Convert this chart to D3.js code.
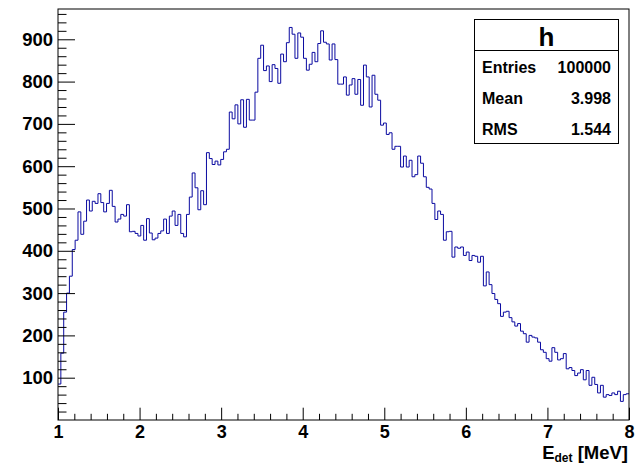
<!DOCTYPE html>
<html>
<head>
<meta charset="utf-8">
<script src="https://cdn.jsdelivr.net/npm/d3@7/dist/d3.min.js"></script>
<style>
  html, body { margin: 0; padding: 0; background: #fff; }
  svg { display: block; }
  text { font-family: "Liberation Sans", Arial, Helvetica, sans-serif; font-weight: bold; }
</style>
</head>
<body>
<svg id="chart" width="639" height="464"></svg>
<script>
// Histogram "h": detected energy, 200 equal bins between 1 and 8 MeV
const xRange = [1, 8];
const counts = [
   85, 158, 255, 300, 340, 403, 425, 492, 439, 470,
  520, 494, 517, 512, 535, 514, 492, 512, 543, 505,
  468, 475, 486, 482, 509, 445, 446, 441, 435, 460,
  425, 476, 442, 426, 430, 441, 447, 475, 441, 482,
  494, 460, 486, 441, 433, 486, 527, 584, 549, 497,
  542, 509, 632, 618, 604, 612, 603, 616, 634, 640,
  728, 712, 745, 700, 757, 692, 758, 709, 709, 775,
  855, 886, 826, 837, 800, 840, 831, 796, 865, 847,
  892, 928, 912, 855, 915, 905, 855, 827, 841, 869,
  847, 890, 920, 893, 889, 851, 889, 852, 794, 794,
  811, 768, 792, 807, 770, 805, 744, 839, 811, 740,
  815, 770, 756, 697, 702, 675, 679, 640, 647, 647,
  598, 624, 598, 614, 575, 580, 624, 607, 575, 550,
  546, 512, 474, 494, 486, 425, 445, 446, 385, 409,
  406, 409, 389, 397, 377, 389, 387, 373, 387, 317,
  350, 320, 299, 285, 275, 245, 255, 257, 242, 232,
  222, 228, 210, 204, 184, 200, 196, 194, 184, 166,
  160, 145, 139, 171, 160, 142, 145, 157, 121, 124,
  117, 105, 111, 119,  95, 117,  82, 101,  84,  64,
   82,  54,  60,  58,  64,  60,  68,  44,  60,  62
];
const yMax = 971.6;

// Axis tick labels
const xTickLabels = [1, 2, 3, 4, 5, 6, 7, 8];
const yTickLabels = [100, 200, 300, 400, 500, 600, 700, 800, 900];

// Statistics box
const statsTitle = "h";
const statsNames = ["Entries", "Mean", "RMS"];
const statsValues = ["100000", "3.998", "1.544"];

const W = 639, H = 464;
const frame = { left: 58, right: 629, top: 9, bottom: 420 };

const svg = d3.select("#chart");
svg.append("rect").attr("width", W).attr("height", H).attr("fill", "#fff");

const x = d3.scaleLinear().domain(xRange).range([frame.left, frame.right]);
const y = d3.scaleLinear().domain([0, yMax]).range([frame.bottom, frame.top]);

// Histogram outline as a step line through bin edges
const nBins = counts.length;
const binW = (xRange[1] - xRange[0]) / nBins;
const pts = counts.map((c, i) => [xRange[0] + i * binW, c]);
pts.push([xRange[1], counts[nBins - 1]]);

svg.append("clipPath").attr("id", "frameClip")
  .append("rect")
  .attr("x", frame.left).attr("y", frame.top)
  .attr("width", frame.right - frame.left).attr("height", frame.bottom - frame.top);

svg.append("path")
  .datum(pts)
  .attr("clip-path", "url(#frameClip)")
  .attr("fill", "none")
  .attr("stroke", "#0a0aa0")
  .attr("stroke-width", 1)
  .attr("d", d3.line().x(d => x(d[0])).y(d => y(d[1])).curve(d3.curveStepAfter));

// Minor ticks
const xMinor = d3.range(1, 8.0001, 0.2).filter(v => Math.abs(v - Math.round(v)) > 1e-6);
const yMinor = d3.range(20, yMax, 20).filter(v => v % 100 !== 0);

svg.append("g")
  .attr("transform", `translate(0,${frame.bottom})`)
  .call(d3.axisBottom(x).tickValues(xMinor).tickSize(-6.2).tickFormat(""))
  .call(g => g.select(".domain").remove());

svg.append("g")
  .attr("transform", `translate(${frame.left},0)`)
  .call(d3.axisLeft(y).tickValues(yMinor).tickSize(-8.5).tickFormat(""))
  .call(g => g.select(".domain").remove());

// Major ticks with labels
svg.append("g")
  .attr("transform", `translate(0,${frame.bottom})`)
  .call(d3.axisBottom(x).tickValues(xTickLabels).tickSize(-12.3).tickPadding(5.5).tickFormat(d3.format("d")))
  .call(g => g.select(".domain").remove())
  .call(g => g.selectAll("text").attr("font-size", 18).attr("fill", "#000"));

svg.append("g")
  .attr("transform", `translate(${frame.left},0)`)
  .call(d3.axisLeft(y).tickValues(yTickLabels).tickSize(-17).tickPadding(5).tickFormat(d3.format("d")))
  .call(g => g.select(".domain").remove())
  .call(g => g.selectAll("text").attr("font-size", 18.5).attr("fill", "#000"));

svg.selectAll(".tick line").attr("stroke", "#000").attr("stroke-width", 1);

// Frame
svg.append("rect")
  .attr("x", frame.left).attr("y", frame.top)
  .attr("width", frame.right - frame.left).attr("height", frame.bottom - frame.top)
  .attr("fill", "none").attr("stroke", "#000").attr("stroke-width", 1);

// X axis title with subscript
const xt = svg.append("text")
  .attr("x", frame.right - 1).attr("y", 459)
  .attr("text-anchor", "end")
  .attr("font-size", 18.5)
  .attr("fill", "#000");
xt.append("tspan").text("E");
xt.append("tspan").attr("font-size", 12).attr("dy", 3).text("det");
xt.append("tspan").attr("dy", -3).text(" [MeV]");

// Statistics box
const box = { x: 474, y: 19, w: 144, h: 124, split: 50 };
const sg = svg.append("g");
sg.append("rect")
  .attr("x", box.x + 0.5).attr("y", box.y + 0.5)
  .attr("width", box.w).attr("height", box.h)
  .attr("fill", "#fff").attr("stroke", "#000").attr("stroke-width", 1);
sg.append("line")
  .attr("x1", box.x + 0.5).attr("x2", box.x + box.w + 0.5)
  .attr("y1", box.split + 0.5).attr("y2", box.split + 0.5)
  .attr("stroke", "#000");
sg.append("text")
  .attr("x", box.x + box.w / 2 + 0.5).attr("y", 46)
  .attr("text-anchor", "middle").attr("font-size", 26)
  .text(statsTitle);
const rowBase = [73, 104, 135];
statsNames.forEach((n, i) => {
  sg.append("text").attr("x", 482).attr("y", rowBase[i])
    .attr("font-size", 16).text(n);
  sg.append("text").attr("x", 611).attr("y", rowBase[i])
    .attr("text-anchor", "end").attr("font-size", 16).text(statsValues[i]);
});
</script>
</body>
</html>
